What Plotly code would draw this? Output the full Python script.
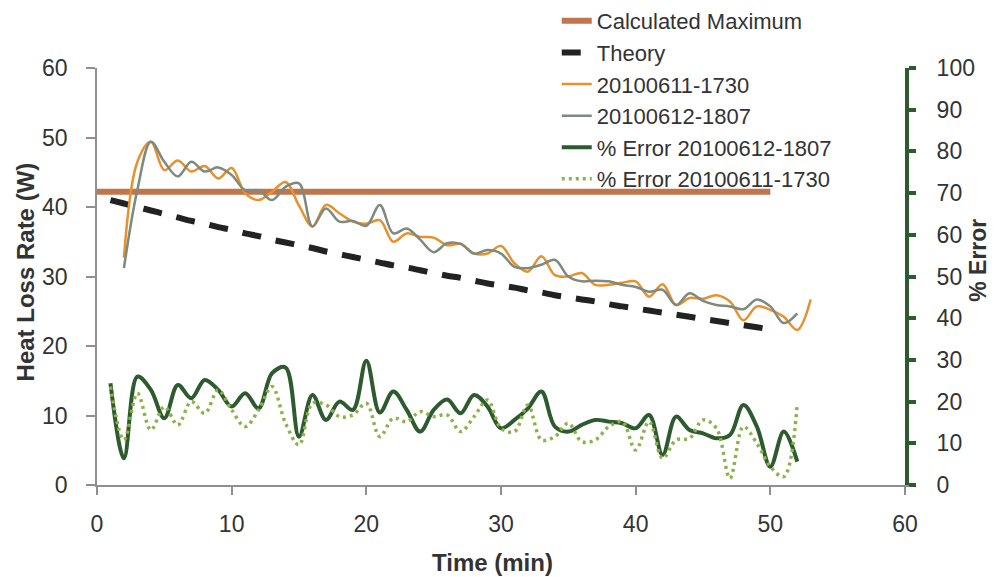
import plotly.graph_objects as go

# ---------------- data ----------------
time_max = [0, 50]
calc_max = [42.2, 42.2]

time_theory = list(range(1, 51))
theory = [41.0, 40.5, 40.0, 39.5, 39.0, 38.5, 38.0, 37.6, 37.1, 36.7,
          36.2, 35.8, 35.3, 34.9, 34.5, 34.1, 33.6, 33.2, 32.8, 32.4,
          32.0, 31.6, 31.3, 30.9, 30.5, 30.1, 29.8, 29.4, 29.0, 28.7,
          28.4, 28.0, 27.7, 27.3, 27.0, 26.7, 26.4, 26.0, 25.7, 25.4,
          25.1, 24.8, 24.5, 24.2, 23.9, 23.6, 23.3, 23.0, 22.7, 22.4]

time_1730 = list(range(2, 54))
hl_1730 = [32.7, 46.5, 49.4, 45.3, 46.7, 45.1, 45.9, 44.1, 45.6, 42.0,
           41.0, 42.2, 43.6, 40.2, 37.2, 40.3, 39.1, 37.9, 37.6, 38.1,
           35.0, 36.2, 35.7, 35.6, 34.5, 34.7, 33.3, 33.3, 34.4, 31.9,
           30.7, 32.9, 30.2, 30.0, 30.5, 28.8, 28.8, 29.1, 29.3, 27.1,
           28.9, 25.9, 26.9, 26.8, 27.3, 26.4, 23.7, 25.7, 25.2, 24.2,
           22.3, 26.7]

time_1807 = list(range(2, 53))
hl_1807 = [31.2, 42.5, 49.4, 46.5, 44.4, 46.5, 45.1, 45.7, 44.6, 42.4,
           42.4, 41.0, 42.9, 43.4, 37.2, 39.8, 37.9, 38.0, 37.3, 40.3,
           36.2, 36.9, 35.3, 33.5, 34.8, 34.7, 33.3, 33.8, 33.3, 31.4,
           31.2, 31.7, 32.4, 30.0, 29.3, 29.4, 29.3, 28.8, 28.5, 27.8,
           28.1, 25.9, 27.6, 26.5, 25.9, 25.7, 25.3, 26.7, 25.7, 23.3,
           24.7]

time_err = list(range(1, 53))
err_1807 = [24.4, 6.4, 26.0, 22.8, 16.0, 24.0, 20.8, 25.2, 22.8, 18.8,
            22.0, 18.4, 26.8, 28.2, 11.6, 21.6, 15.6, 20.0, 18.0, 29.8,
            17.4, 22.4, 18.0, 12.8, 18.0, 20.5, 17.2, 21.6, 18.8, 13.6,
            15.6, 18.4, 22.4, 14.0, 12.8, 14.4, 15.6, 15.2, 14.8, 13.6,
            16.8, 7.2, 16.4, 13.2, 12.4, 11.2, 12.0, 19.2, 14.0, 4.4,
            12.8, 5.6]
err_1730 = [23.6, 10.8, 22.0, 13.2, 18.8, 14.4, 20.0, 17.2, 22.8, 18.0,
            14.0, 18.0, 23.6, 14.8, 9.6, 19.6, 19.2, 16.4, 16.8, 19.6,
            11.6, 16.0, 15.2, 17.6, 16.4, 16.8, 12.8, 16.4, 20.4, 13.6,
            12.8, 19.2, 10.8, 11.6, 14.8, 10.4, 10.8, 14.0, 15.2, 8.4,
            15.2, 6.4, 10.8, 11.2, 15.6, 13.6, 1.6, 14.0, 10.0, 4.4,
            2.0, 19.6]

x_ticks = [0, 10, 20, 30, 40, 50, 60]
y_ticks = [0, 10, 20, 30, 40, 50, 60]
y2_ticks = [0, 10, 20, 30, 40, 50, 60, 70, 80, 90, 100]

# ---------------- styles ----------------
C_MAX = "#C0754E"
C_THEORY = "#222222"
C_1730 = "#E8902C"
C_1807 = "#7D8A7E"
C_ERR1807 = "#2D5A2E"
C_ERR1730 = "#8DB24C"
AXIS_GREY = "#8f8f8f"
TXT = "#333333"
FONT = "Liberation Sans"

fig = go.Figure()
fig.add_trace(go.Scatter(x=time_max, y=calc_max, mode="lines", name="Calculated Maximum",
                         line=dict(color=C_MAX, width=6)))
fig.add_trace(go.Scatter(x=time_theory, y=theory, mode="lines", name="Theory",
                         line=dict(color=C_THEORY, width=6, dash="19px,15px", shape="spline")))
fig.add_trace(go.Scatter(x=time_1730, y=hl_1730, mode="lines", name="20100611-1730",
                         line=dict(color=C_1730, width=2.5, shape="spline", smoothing=1)))
fig.add_trace(go.Scatter(x=time_1807, y=hl_1807, mode="lines", name="20100612-1807",
                         line=dict(color=C_1807, width=2.5, shape="spline", smoothing=1)))
fig.add_trace(go.Scatter(x=time_err, y=err_1807, mode="lines", name="% Error 20100612-1807",
                         yaxis="y2", line=dict(color=C_ERR1807, width=4, shape="spline", smoothing=1)))
fig.add_trace(go.Scatter(x=time_err, y=err_1730, mode="lines", name="% Error 20100611-1730",
                         yaxis="y2", line=dict(color=C_ERR1730, width=3.5, dash="3px,4px",
                                               shape="spline", smoothing=1)))

axis_common = dict(showgrid=False, zeroline=False, showline=True, ticks="outside",
                   tickfont=dict(size=23, color=TXT, family=FONT))

fig.update_layout(
    width=995, height=577,
    margin=dict(l=97, r=90, t=68, b=92, autoexpand=False),
    paper_bgcolor="white", plot_bgcolor="white",
    font=dict(family=FONT, color=TXT),
    xaxis=dict(range=[0, 60], tickvals=x_ticks, linecolor=AXIS_GREY, linewidth=1.5,
               tickcolor=AXIS_GREY, ticklen=8, tickwidth=1.5, ticklabelstandoff=10, **axis_common),
    yaxis=dict(range=[0, 60], tickvals=y_ticks, linecolor=AXIS_GREY, linewidth=1.5,
               tickcolor=AXIS_GREY, ticklen=9, tickwidth=1.5, ticklabelstandoff=14, **axis_common),
    yaxis2=dict(range=[0, 100], tickvals=y2_ticks, overlaying="y", side="right",
                linecolor=C_ERR1807, linewidth=4, tickcolor=C_ERR1807, ticklen=7, tickwidth=4,
                ticklabelstandoff=16, **axis_common),
    showlegend=True,
    legend=dict(x=0.569, y=1.163, xanchor="left", yanchor="top", bgcolor="rgba(0,0,0,0)",
                font=dict(size=22, color=TXT, family=FONT), traceorder="normal"),
    annotations=[
        dict(text="<b>Heat Loss Rate (W)</b>", xref="paper", yref="paper", x=-0.089, y=0.51,
             xanchor="center", yanchor="middle", textangle=-90, showarrow=False,
             font=dict(size=24, color=TXT, family=FONT)),
        dict(text="<b>% Error</b>", xref="paper", yref="paper", x=1.0903, y=0.54,
             xanchor="center", yanchor="middle", textangle=-90, showarrow=False,
             font=dict(size=23, color=TXT, family=FONT)),
        dict(text="<b>Time (min)</b>", xref="paper", yref="paper", x=0.489, y=-0.185,
             xanchor="center", yanchor="middle", showarrow=False,
             font=dict(size=24, color=TXT, family=FONT)),
    ],
)

fig.write_html("out.html")
